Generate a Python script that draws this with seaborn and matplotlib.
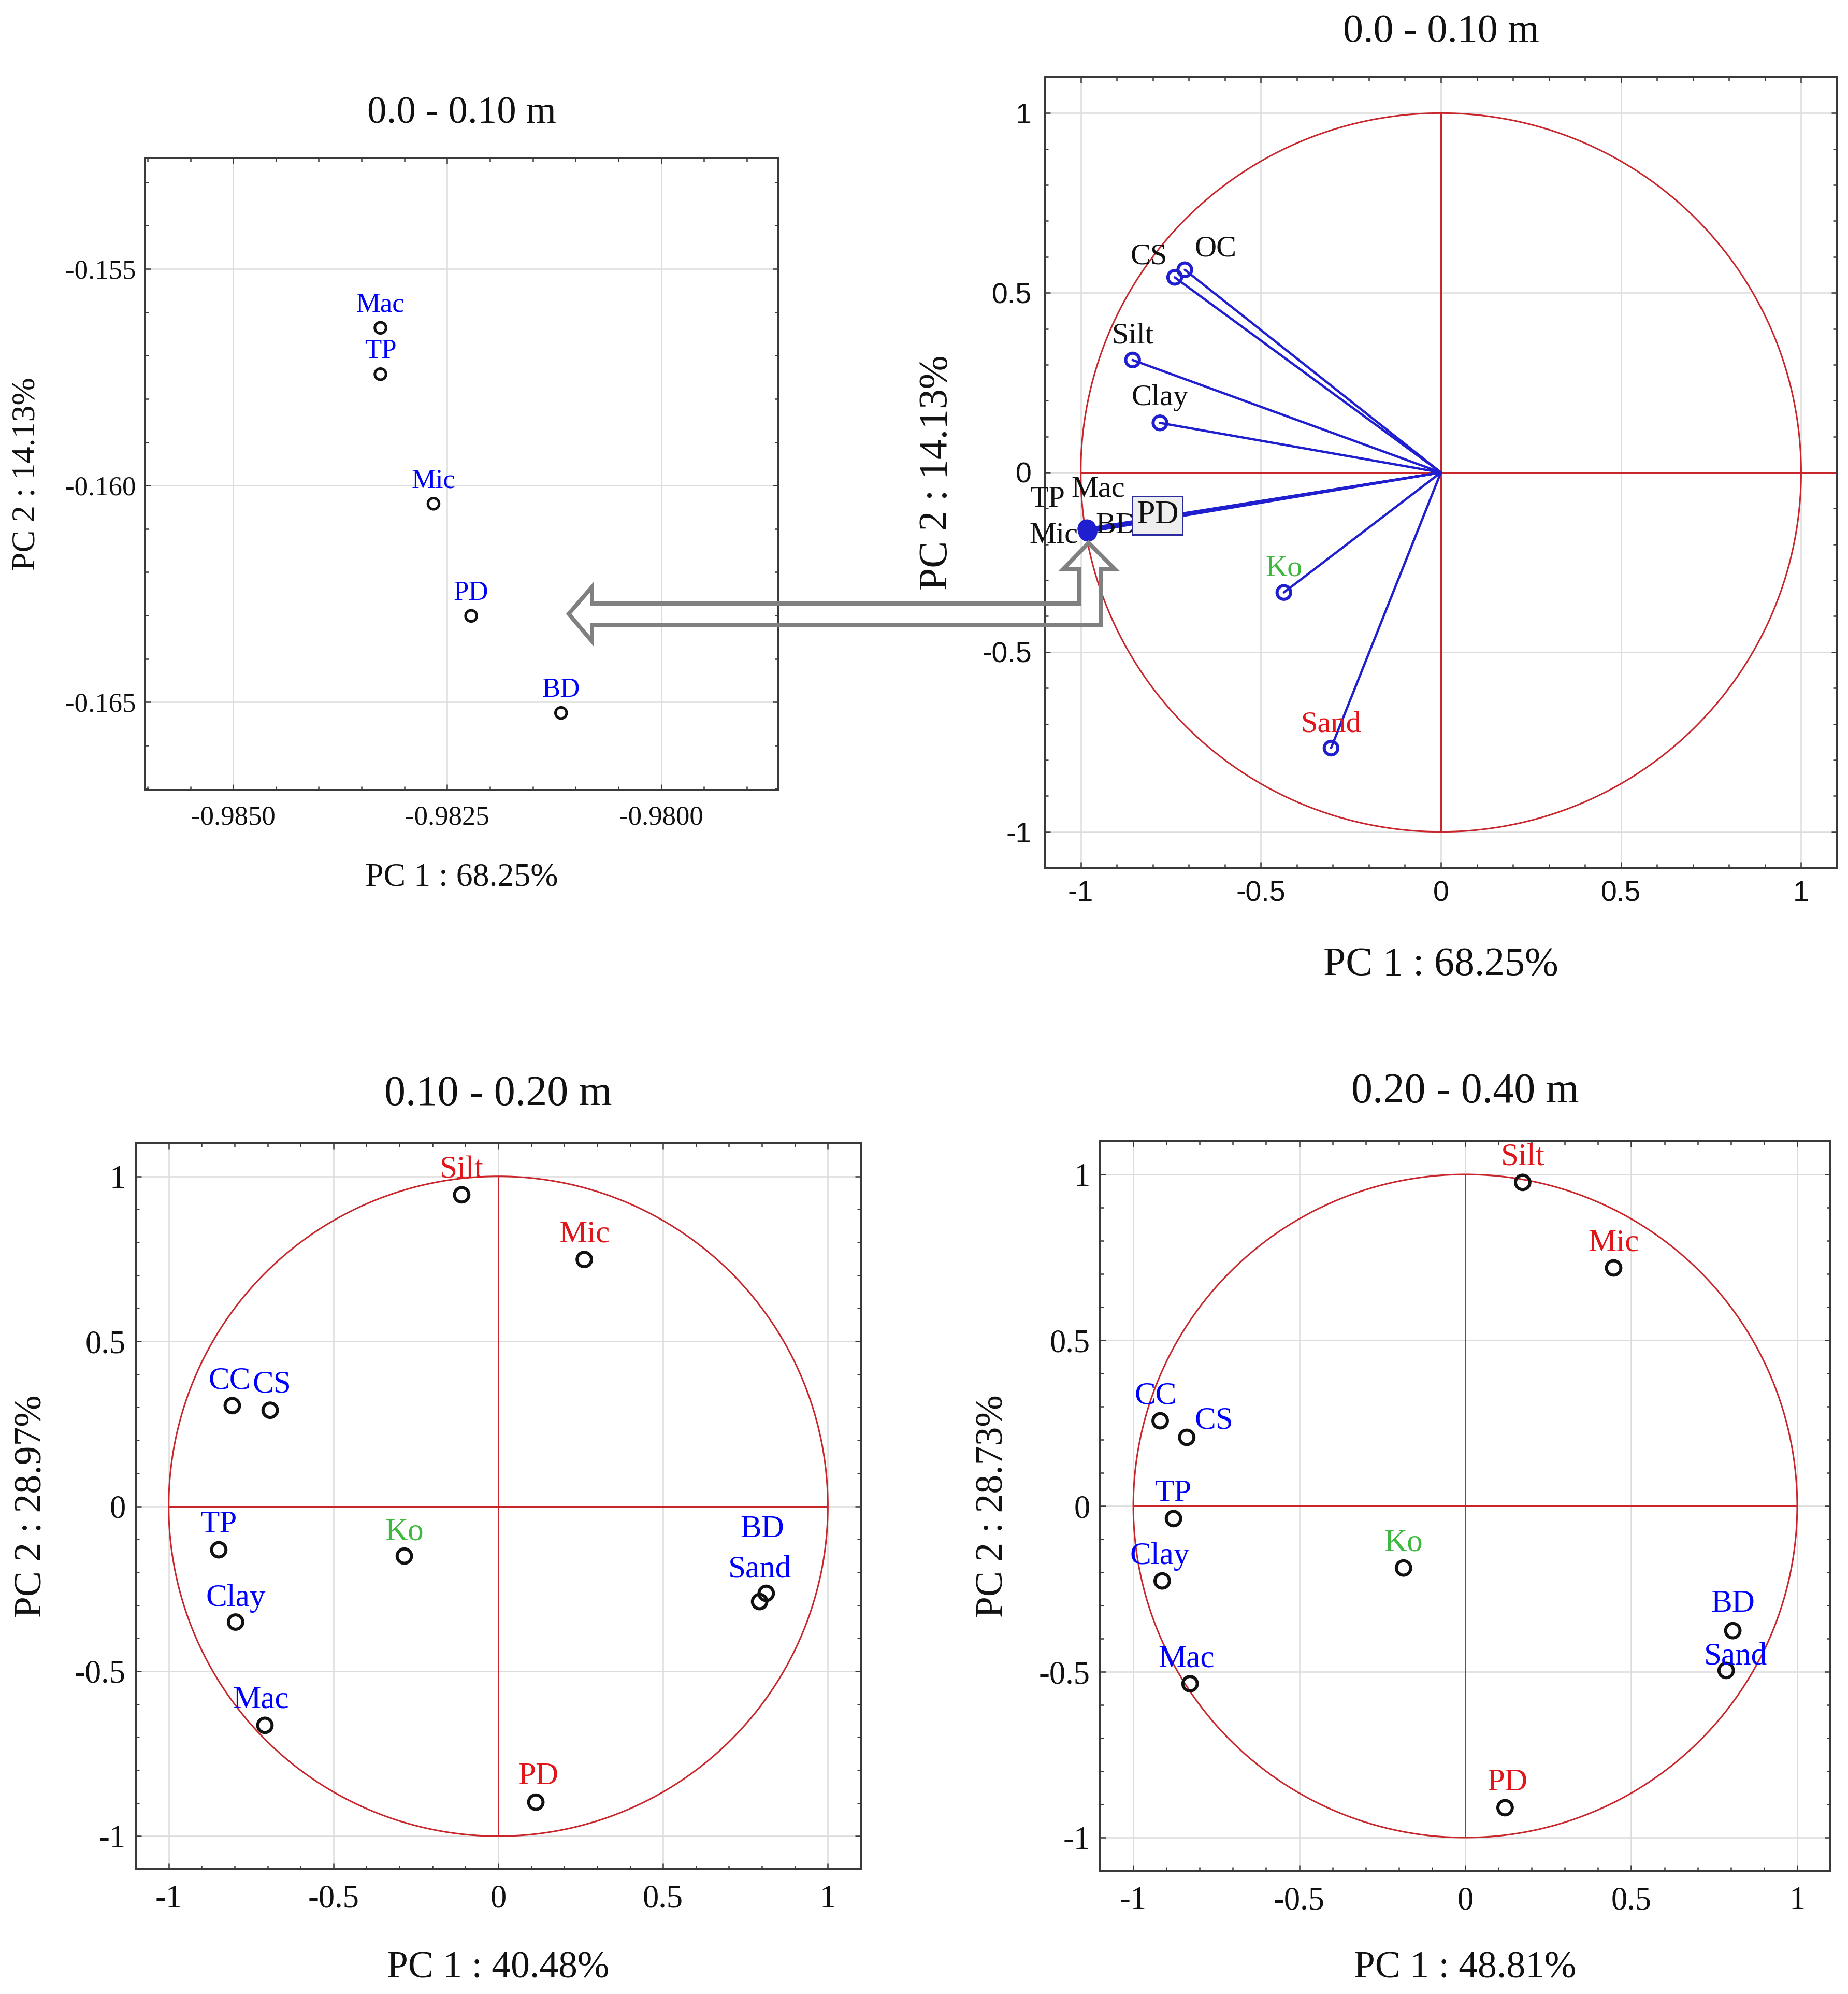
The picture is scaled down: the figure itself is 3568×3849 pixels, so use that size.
import numpy as np
import pandas as pd
import matplotlib
matplotlib.use("Agg")
import matplotlib.pyplot as plt
from matplotlib.patches import Polygon, Circle
from matplotlib.ticker import MultipleLocator, FixedLocator, FuncFormatter
import seaborn as sns

# ------------------------------------------------------------------ data
# zoomed view of the overlapping loadings (0.0 - 0.10 m)
zoom_vars = ["Mac", "TP", "Mic", "PD", "BD"]
zoom_pc1 = [-0.98328, -0.98328, -0.98266, -0.98222, -0.98117]
zoom_pc2 = [-0.15636, -0.15743, -0.16042, -0.16301, -0.16525]
zoom_xticks = [-0.9850, -0.9825, -0.9800]
zoom_yticks = [-0.165, -0.160, -0.155]

# loadings 0.0 - 0.10 m (vectors)
top_vars = ["CS", "OC", "Silt", "Clay", "Ko", "Sand"]
top_pc1 = [-0.739, -0.711, -0.856, -0.780, -0.436, -0.305]
top_pc2 = [0.543, 0.564, 0.313, 0.138, -0.334, -0.767]
top_group = ["n", "n", "n", "n", "g", "r"]
# the five overlapping loadings of that depth = zoom_vars / zoom_pc1 / zoom_pc2

# loadings 0.10 - 0.20 m
mid_vars = ["Silt", "Mic", "CC", "CS", "TP", "Ko", "Clay", "Mac", "PD", "BD", "Sand"]
mid_pc1 = [-0.111, 0.261, -0.807, -0.692, -0.848, -0.285, -0.797, -0.708, 0.114, 0.813, 0.793]
mid_pc2 = [0.944, 0.748, 0.305, 0.291, -0.132, -0.151, -0.351, -0.664, -0.897, -0.264, -0.289]
mid_group = ["r", "r", "b", "b", "b", "g", "b", "b", "r", "b", "b"]

# loadings 0.20 - 0.40 m
deep_vars = ["Silt", "Mic", "CC", "CS", "TP", "Ko", "Clay", "Mac", "PD", "BD", "Sand"]
deep_pc1 = [0.173, 0.447, -0.919, -0.839, -0.879, -0.186, -0.913, -0.829, 0.120, 0.806, 0.786]
deep_pc2 = [0.976, 0.718, 0.257, 0.207, -0.038, -0.187, -0.226, -0.536, -0.910, -0.376, -0.496]
deep_group = ["r", "r", "b", "b", "b", "g", "b", "b", "r", "b", "b"]

titles = ["0.0 - 0.10 m", "0.0 - 0.10 m", "0.10 - 0.20 m", "0.20 - 0.40 m"]
xlabels = ["PC 1 : 68.25%", "PC 1 : 68.25%", "PC 1 : 40.48%", "PC 1 : 48.81%"]
ylabels = ["PC 2 : 14.13%", "PC 2 : 14.13%", "PC 2 : 28.97%", "PC 2 : 28.73%"]

# ------------------------------------------------------------------ style
sns.set_theme(style="white")
plt.rcParams["font.family"] = ["Liberation Serif", "DejaVu Serif"]
plt.rcParams["axes.unicode_minus"] = False

W, H, DPI = 3568, 3849, 100
def pt(v):  # pixels -> points
    return v * 72.0 / DPI

COL = {"b": "#0000ff", "r": "#e0161b", "g": "#3fb83f", "n": "#111111"}
RED = "#c8262b"
SPINE = "#3a3a3a"

fig = plt.figure(figsize=(W / DPI, H / DPI), dpi=DPI)
fig.patch.set_facecolor("white")

def add_ax(l, t, r, b):
    return fig.add_axes([l / W, 1 - b / H, (r - l) / W, (b - t) / H])

def style(ax, tick_family, tick_size, xpad, ypad):
    ax.set_facecolor("white")
    for s in ax.spines.values():
        s.set_visible(True)
        s.set_color(SPINE)
        s.set_linewidth(pt(4))
    ax.set_axisbelow(True)
    ax.grid(True, which="major", color="#dcdcdc", lw=pt(2.5))
    ax.grid(False, which="minor")
    ax.tick_params(which="both", direction="in", top=True, right=True,
                   bottom=True, left=True, color=SPINE, width=pt(2.5))
    ax.tick_params(which="major", length=pt(11))
    ax.tick_params(which="minor", length=pt(7))
    ax.tick_params(axis="x", pad=pt(xpad), labelsize=tick_size,
                   labelfontfamily=tick_family, labelcolor="#111111")
    ax.tick_params(axis="y", pad=pt(ypad), labelsize=tick_size,
                   labelfontfamily=tick_family, labelcolor="#111111")

def labels(ax, i, tsize, lsize, ty, xy, yx):
    ax.set_title(titles[i], fontsize=tsize, y=ty, va="baseline", pad=0, color="#111111")
    ax.set_xlabel(xlabels[i], fontsize=lsize, color="#111111")
    ax.xaxis.label.set_verticalalignment("baseline")
    ax.xaxis.set_label_coords(0.5, xy)
    ax.set_ylabel(ylabels[i], fontsize=lsize, color="#111111")
    ax.yaxis.label.set_verticalalignment("center")
    ax.yaxis.label.set_rotation_mode("anchor")
    ax.yaxis.set_label_coords(yx, 0.5)

def circle_axes(ax, hline_right=1.0):
    ax.set_xlim(-1.1, 1.1)
    ax.set_ylim(-1.1, 1.1)
    ax.xaxis.set_major_locator(MultipleLocator(0.5))
    ax.yaxis.set_major_locator(MultipleLocator(0.5))
    ax.xaxis.set_minor_locator(MultipleLocator(0.1))
    ax.yaxis.set_minor_locator(MultipleLocator(0.1))
    fmt = FuncFormatter(lambda v, p: "0" if abs(v) < 1e-9 else f"{v:g}")
    ax.xaxis.set_major_formatter(fmt)
    ax.yaxis.set_major_formatter(fmt)
    ax.add_patch(Circle((0, 0), 1, fill=False, ec=RED, lw=pt(3), zorder=2))
    ax.hlines(0, -1, hline_right, color=RED, lw=pt(3), zorder=2)
    ax.vlines(0, -1, 1, color=RED, lw=pt(3), zorder=2)

# ------------------------------------------------------------------ panel 1 : zoom
ax1 = add_ax(280, 305, 1503, 1525)
style(ax1, "Liberation Serif", 38, 30, 18)
df1 = pd.DataFrame({"var": zoom_vars, "PC1": zoom_pc1, "PC2": zoom_pc2})
sns.scatterplot(data=df1, x="PC1", y="PC2", ax=ax1, s=240, facecolor="none",
                edgecolor="#111111", linewidth=pt(5), zorder=4)
for v, x, y in zip(zoom_vars, zoom_pc1, zoom_pc2):
    ax1.annotate(v, (x, y), xytext=(0, 44), textcoords="offset pixels",
                 ha="center", va="center", fontsize=38, color=COL["b"], zorder=5)
ax1.set_xlim(-0.98603, -0.97863)
ax1.set_ylim(-0.16703, -0.15244)
ax1.xaxis.set_major_locator(FixedLocator(zoom_xticks))
ax1.yaxis.set_major_locator(FixedLocator(zoom_yticks))
ax1.xaxis.set_minor_locator(MultipleLocator(0.0005))
ax1.yaxis.set_minor_locator(MultipleLocator(0.001))
ax1.xaxis.set_major_formatter(FuncFormatter(lambda v, p: f"{v:.4f}"))
ax1.yaxis.set_major_formatter(FuncFormatter(lambda v, p: f"{v:.3f}"))
labels(ax1, 0, 54, 46, (1525 - 237) / 1220, (1525 - 1710) / 1220, (52 - 280) / 1223)

# ------------------------------------------------------------------ panel 2 : vectors
ax2 = add_ax(2017, 149, 3547, 1675)
style(ax2, "Liberation Sans", 40, 24, 25)
circle_axes(ax2, hline_right=1.1)
BLUE_LINE = "#1f1fcf"
for x, y in zip(top_pc1 + zoom_pc1, top_pc2 + zoom_pc2):
    ax2.plot([0, x], [0, y], color=BLUE_LINE, lw=pt(4.5), zorder=3, solid_capstyle="round")
df2 = pd.DataFrame({"var": top_vars, "PC1": top_pc1, "PC2": top_pc2})
sns.scatterplot(data=df2, x="PC1", y="PC2", ax=ax2, s=360, facecolor="none",
                edgecolor=BLUE_LINE, linewidth=pt(6), zorder=4)
sns.scatterplot(data=df1, x="PC1", y="PC2", ax=ax2, s=600, facecolor=BLUE_LINE,
                edgecolor=BLUE_LINE, linewidth=pt(2), zorder=4)
top_off = {"CS": (-50, 40), "OC": (60, 40), "Silt": (0, 46), "Clay": (0, 48),
           "Ko": (0, 46), "Sand": (0, 46)}
for v, x, y, g in zip(top_vars, top_pc1, top_pc2, top_group):
    ax2.annotate(v, (x, y), xytext=top_off[v], textcoords="offset pixels",
                 ha="center", va="center", fontsize=42, color=COL[g], zorder=5)
clu_off = {"TP": (-75, 57), "Mac": (22, 76), "Mic": (-64, -10), "BD": (56, 12),
           "PD": (136, 30)}
for v, x, y in zip(zoom_vars, zoom_pc1, zoom_pc2):
    kw = {}
    z = 5
    fs = 42
    if v == "PD":
        kw["bbox"] = dict(boxstyle="square,pad=0.12", fc="#eeeeee", ec="#2b2ba0", lw=pt(3))
        z = 7
        fs = 46
    ax2.annotate(v, (x, y), xytext=clu_off[v], textcoords="offset pixels",
                 ha="center", va="center", fontsize=fs, color=COL["n"], zorder=z, **kw)
labels(ax2, 1, 56, 56, (1675 - 81) / 1526, (1675 - 1882) / 1526, (1809 - 2017) / 1530)

# ------------------------------------------------------------------ panels 3 & 4
def point_panel(box, vars_, pc1, pc2, grp, offs, i, title_base, xl_base, yl_x):
    l, t, r, b = box
    ax = add_ax(l, t, r, b)
    style(ax, "Liberation Serif", 45, 30, 19)
    circle_axes(ax)
    df = pd.DataFrame({"var": vars_, "PC1": pc1, "PC2": pc2})
    sns.scatterplot(data=df, x="PC1", y="PC2", ax=ax, s=400, facecolor="none",
                    edgecolor="#111111", linewidth=pt(6), zorder=4)
    for v, x, y, g in zip(vars_, pc1, pc2, grp):
        dx, dy = offs.get(v, (0, 48))
        ax.annotate(v, (x, y), xytext=(dx, dy), textcoords="offset pixels",
                    ha="center", va="center", fontsize=44, color=COL[g], zorder=5)
    hgt = b - t
    labels(ax, i, 59, 53, (b - title_base) / hgt, (b - xl_base) / hgt, (yl_x - l) / (r - l))
    return ax

mid_off = {"CC": (-5, 48), "CS": (3, 49), "Mac": (-8, 49), "PD": (5, 49),
           "Ko": (0, 46), "Clay": (0, 46), "BD": (-8, 123), "Sand": (0, 62)}
deep_off = {"CC": (-9, 48), "CS": (53, 32), "Clay": (-5, 47), "Mac": (-7, 47),
            "PD": (4, 48), "BD": (0, 51), "Sand": (18, 27)}
ax3 = point_panel((262, 2207, 1662, 3608), mid_vars, mid_pc1, mid_pc2, mid_group,
                  mid_off, 2, 2133, 3818, 62)
ax4 = point_panel((2124, 2203, 3534, 3611), deep_vars, deep_pc1, deep_pc2, deep_group,
                  deep_off, 3, 2128, 3818, 1918)

# ------------------------------------------------------------------ connecting block arrow
arrow_px = [(2102, 1048), (2152, 1098), (2126, 1098), (2126, 1206), (1143, 1206),
            (1143, 1238), (1098, 1185), (1143, 1133), (1143, 1165), (2083, 1165),
            (2083, 1098), (2053, 1098)]
arrow_fig = [(x / W, 1 - y / H) for x, y in arrow_px]
fig.patches.append(Polygon(arrow_fig, closed=True, transform=fig.transFigure,
                           fill=False, ec="#808080", lw=pt(8), joinstyle="miter",
                           zorder=20))

fig.savefig("out.png", dpi=DPI, facecolor="white")
